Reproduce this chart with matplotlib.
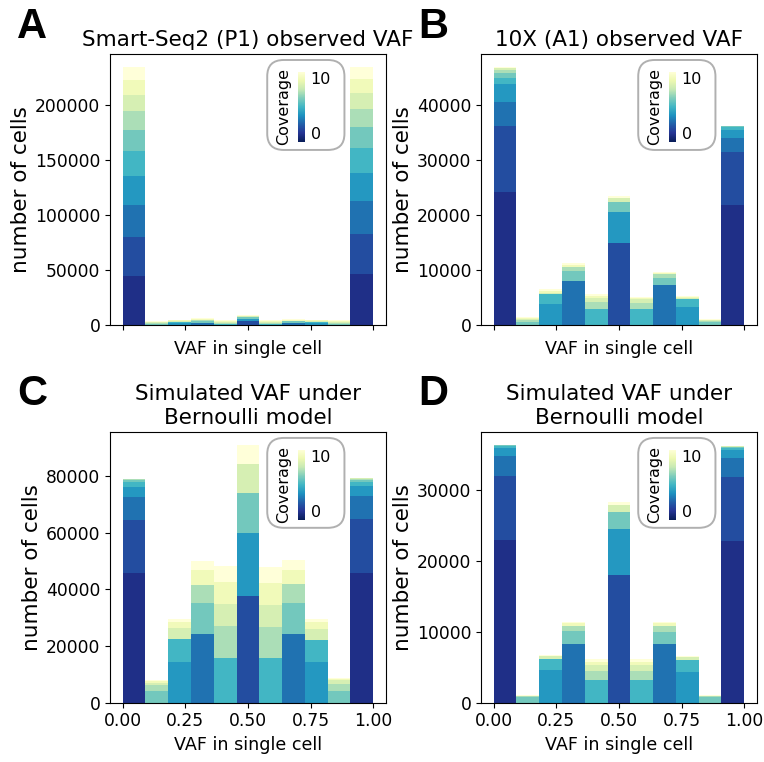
import numpy as np
import matplotlib
matplotlib.use("Agg")
import matplotlib.pyplot as plt
from matplotlib.colors import Normalize
from matplotlib.cm import ScalarMappable
from matplotlib.patches import FancyBboxPatch
from matplotlib.ticker import MultipleLocator

# 11 VAF bins on [0, 1]; one row per coverage level (1..10), bottom of stack first
bin_edges = np.linspace(0, 1, 12)
coverage_levels = np.arange(1, 11)

ss2_observed = [
    [44500, 0, 0, 0, 0, 0, 0, 0, 0, 0, 46400],
    [35200, 0, 0, 0, 0, 4000, 0, 0, 0, 0, 36400],
    [29400, 0, 0, 2200, 0, 0, 0, 1900, 0, 0, 30000],
    [26400, 0, 1500, 0, 0, 1800, 0, 0, 1500, 0, 25200],
    [22100, 0, 1300, 0, 1200, 0, 1200, 0, 1300, 0, 22400],
    [19700, 800, 0, 1300, 0, 1300, 0, 1300, 0, 900, 19400],
    [16600, 700, 0, 900, 900, 0, 900, 800, 0, 800, 16400],
    [15200, 800, 700, 0, 900, 900, 900, 0, 700, 850, 14500],
    [13000, 800, 700, 900, 900, 0, 900, 800, 700, 850, 12700],
    [12200, 800, 700, 800, 900, 900, 900, 700, 700, 850, 10900],
]

tenx_observed = [
    [24050, 0, 0, 0, 0, 0, 0, 0, 0, 0, 21760],
    [12000, 0, 0, 0, 0, 14850, 0, 0, 0, 0, 9570],
    [4370, 0, 0, 8060, 0, 0, 0, 7270, 0, 0, 2670],
    [3390, 0, 3820, 0, 0, 5580, 0, 0, 3210, 0, 1450],
    [1090, 0, 1820, 0, 2970, 0, 2850, 0, 1580, 0, 420],
    [850, 600, 0, 1760, 0, 1820, 0, 1330, 0, 500, 150],
    [600, 350, 0, 790, 1150, 0, 1090, 670, 0, 290, 70],
    [200, 200, 250, 0, 730, 790, 730, 0, 170, 100, 40],
    [150, 150, 300, 300, 400, 0, 200, 250, 150, 70, 30],
    [130, 100, 300, 300, 330, 420, 160, 170, 160, 70, 30],
]

ss2_simulated = [
    [45880, 0, 0, 0, 0, 0, 0, 0, 0, 0, 45880],
    [18590, 0, 0, 0, 0, 37770, 0, 0, 0, 0, 18820],
    [8000, 0, 0, 24350, 0, 0, 0, 24350, 0, 0, 8240],
    [3530, 0, 14350, 0, 0, 22240, 0, 0, 14350, 0, 3530],
    [2000, 0, 8000, 0, 15880, 0, 15880, 0, 7770, 0, 1530],
    [600, 4240, 0, 10820, 0, 14120, 0, 10820, 0, 4120, 590],
    [250, 1880, 0, 6240, 11180, 0, 10710, 6590, 0, 2470, 350],
    [120, 940, 3880, 0, 7770, 10000, 7770, 0, 3880, 1290, 200],
    [60, 600, 2350, 5410, 7770, 0, 7880, 5060, 2470, 450, 100],
    [30, 340, 1060, 3180, 5770, 6820, 5530, 3530, 1180, 260, 50],
]

tenx_simulated = [
    [22880, 0, 0, 0, 0, 0, 0, 0, 0, 0, 22780],
    [9090, 0, 0, 0, 0, 17950, 0, 0, 0, 0, 9000],
    [2720, 0, 0, 8250, 0, 0, 0, 8200, 0, 0, 2670],
    [1220, 0, 4550, 0, 0, 6470, 0, 0, 4310, 0, 1080],
    [230, 0, 1590, 0, 3190, 0, 3190, 0, 1690, 0, 375],
    [60, 750, 0, 1780, 0, 2390, 0, 1780, 0, 750, 90],
    [40, 170, 0, 750, 1270, 0, 1270, 800, 0, 170, 50],
    [20, 60, 375, 0, 840, 1080, 840, 0, 375, 60, 25],
    [15, 30, 110, 375, 500, 0, 480, 375, 110, 30, 15],
    [10, 20, 80, 235, 340, 330, 320, 190, 80, 20, 10],
]

panel_titles = [
    "Smart-Seq2 (P1) observed VAF",
    "10X (A1) observed VAF",
    "Simulated VAF under\nBernoulli model",
    "Simulated VAF under\nBernoulli model",
]
panel_letters = ["A", "B", "C", "D"]
y_steps = [50000, 10000, 20000, 10000]

cmap = plt.get_cmap("YlGnBu_r")
norm = Normalize(vmin=0, vmax=10)


def stacked_vaf_hist(ax, counts):
    """Stack the per-coverage histograms, lowest coverage at the bottom."""
    counts = np.asarray(counts, dtype=float)
    widths = np.diff(bin_edges)
    bottom = np.zeros(len(widths))
    for cov, row in zip(coverage_levels, counts):
        ax.bar(bin_edges[:-1], row, width=widths, bottom=bottom, align="edge",
               color=cmap(norm(cov)), linewidth=0)
        bottom += row


def coverage_key(ax):
    """Small rounded box with a coverage colorbar in the upper right."""
    box = FancyBboxPatch((0.57, 0.646), 0.28, 0.332, transform=ax.transAxes,
                         boxstyle="round,pad=0,rounding_size=0.06",
                         facecolor="white", edgecolor="#b0b0b0", linewidth=1.4,
                         zorder=3)
    ax.add_patch(box)
    cax = ax.inset_axes([0.682, 0.676, 0.025, 0.259])
    cax.set_zorder(4)
    cbar = plt.colorbar(ScalarMappable(norm=norm, cmap=cmap), cax=cax)
    cbar.outline.set_visible(False)
    cbar.set_ticks([0, 10])
    cbar.ax.tick_params(length=0, pad=4, labelsize=11.5)
    ticks = cbar.ax.yaxis.get_major_ticks()
    ticks[0].label2.set_va("bottom")
    ticks[1].label2.set_va("top")
    cbar.ax.yaxis.set_label_position("left")
    cbar.set_label("Coverage", fontsize=11.5, labelpad=5)


fig = plt.figure(figsize=(7.64, 7.62), dpi=100)
positions = [
    [0.144, 0.5735, 0.361, 0.3556],
    [0.6296, 0.5735, 0.361, 0.3556],
    [0.144, 0.0778, 0.361, 0.3553],
    [0.6296, 0.0778, 0.361, 0.3553],
]
letter_xy = [(0.022, 0.950), (0.548, 0.950), (0.022, 0.468), (0.548, 0.468)]
datasets = [ss2_observed, tenx_observed, ss2_simulated, tenx_simulated]

for i, (pos, data) in enumerate(zip(positions, datasets)):
    ax = fig.add_axes(pos)
    stacked_vaf_hist(ax, data)
    ax.set_xticks([0, 0.25, 0.5, 0.75, 1.0])
    ax.yaxis.set_major_locator(MultipleLocator(y_steps[i]))
    if i < 2:
        ax.set_xticklabels([])
    ax.tick_params(labelsize=12.3)
    ax.set_xlabel("VAF in single cell", fontsize=12.6)
    ax.set_ylabel("number of cells", fontsize=15.5, labelpad=3)
    ax.set_title(panel_titles[i], fontsize=15.5)
    coverage_key(ax)
    fig.text(letter_xy[i][0], letter_xy[i][1], panel_letters[i],
             family="Liberation Sans", fontweight="bold", fontsize=30,
             ha="left", va="baseline")

fig.savefig("out.png", dpi=100)
